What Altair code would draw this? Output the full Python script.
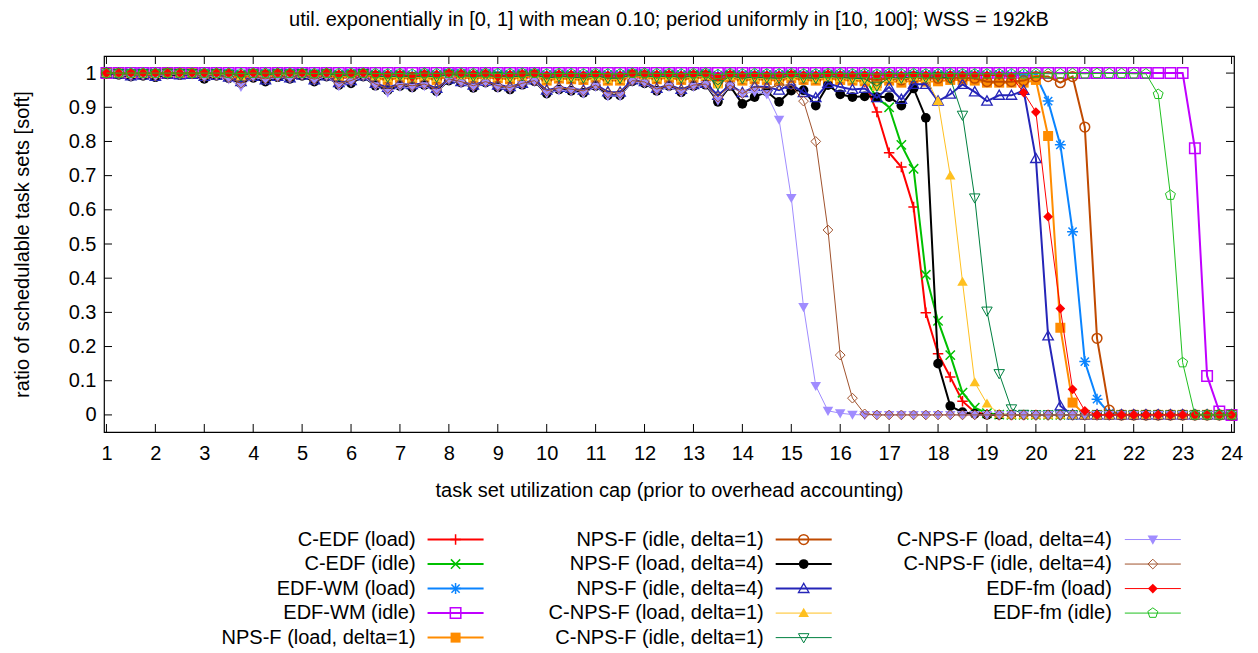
import altair as alt
import pandas as pd

# ---------------- data ----------------
UTIL_CAP = [1.0 + 0.25 * i for i in range(93)]  # 1.00 .. 24.00 step 0.25

C_EDF_LOAD = [
    1.0, 1.0, 1.0, 1.0, 1.0, 1.0, 1.0, 1.0,
    1.0, 1.0, 0.998, 0.996, 1.0, 0.998, 1.0, 1.0,
    1.0, 0.997, 1.0, 0.995, 0.998, 1.0, 0.995, 0.992,
    0.995, 0.985, 0.996, 0.993, 1.0, 0.998, 0.996, 0.998,
    0.985, 0.994, 0.997, 0.999, 0.99, 0.995, 0.993, 0.99,
    0.996, 0.99, 0.99, 0.998, 0.997, 0.992, 0.996, 0.99,
    0.996, 0.997, 0.985, 0.995, 0.99, 0.992, 0.99, 0.99,
    0.995, 0.99, 0.99, 0.995, 0.992, 0.99, 0.975, 0.886,
    0.767, 0.725, 0.608, 0.299, 0.179, 0.111, 0.04, 0.008,
    0.002, 0.0, 0.0, 0.0, 0.0, 0.0, 0.0, 0.0,
    0.0, 0.0, 0.0, 0.0, 0.0, 0.0, 0.0, 0.0,
    0.0, 0.0, 0.0, 0.0, 0.0,
]
C_EDF_IDLE = [
    1.0, 1.0, 1.0, 1.0, 1.0, 1.0, 1.0, 1.0,
    1.0, 0.999, 0.997, 0.995, 1.0, 0.997, 0.999, 0.999,
    1.0, 0.996, 0.999, 0.994, 0.997, 1.0, 0.994, 0.99,
    0.994, 0.982, 0.995, 0.992, 0.999, 0.997, 0.995, 0.997,
    0.995, 0.993, 0.996, 0.998, 0.989, 0.994, 0.992, 0.989,
    0.995, 0.989, 0.989, 0.997, 0.996, 0.99, 0.995, 0.989,
    0.995, 0.996, 0.983, 0.994, 0.989, 0.99, 0.989, 0.989,
    0.994, 0.989, 0.989, 0.994, 0.99, 0.99, 0.985, 0.928,
    0.90, 0.79, 0.72, 0.41, 0.275, 0.175, 0.065, 0.021,
    0.005, 0.001, 0.0, 0.0, 0.0, 0.0, 0.0, 0.0,
    0.0, 0.0, 0.0, 0.0, 0.0, 0.0, 0.0, 0.0,
    0.0, 0.0, 0.0, 0.0, 0.0,
]
EDF_WM_LOAD = [
    1.0, 1.0, 1.0, 1.0, 1.0, 1.0, 1.0, 1.0,
    1.0, 1.0, 0.999, 0.998, 1.0, 0.999, 1.0, 1.0,
    1.0, 0.999, 1.0, 0.998, 0.999, 1.0, 0.998, 0.997,
    0.998, 0.995, 0.999, 0.997, 1.0, 0.999, 0.998, 0.999,
    0.998, 0.997, 0.999, 1.0, 0.996, 0.998, 0.997, 0.996,
    0.998, 0.996, 0.996, 0.999, 0.999, 0.997, 0.998, 0.996,
    0.998, 0.999, 0.994, 0.998, 0.996, 0.997, 0.996, 0.996,
    0.998, 0.996, 0.996, 0.998, 0.997, 0.996, 0.997, 0.995,
    0.997, 0.995, 0.997, 0.996, 0.996, 0.997, 0.996, 0.996,
    0.995, 0.996, 0.995, 0.994, 0.993, 0.918, 0.79, 0.536,
    0.156, 0.046, 0.005, 0.0, 0.0, 0.0, 0.0, 0.0,
    0.0, 0.0, 0.0, 0.0, 0.0,
]
EDF_WM_IDLE = [
    1.0, 1.0, 1.0, 1.0, 1.0, 1.0, 1.0, 1.0,
    1.0, 1.0, 1.0, 1.0, 1.0, 1.0, 1.0, 1.0,
    1.0, 1.0, 1.0, 1.0, 1.0, 1.0, 1.0, 1.0,
    1.0, 1.0, 1.0, 1.0, 1.0, 1.0, 1.0, 1.0,
    1.0, 1.0, 1.0, 1.0, 1.0, 1.0, 1.0, 1.0,
    1.0, 1.0, 1.0, 1.0, 1.0, 1.0, 1.0, 1.0,
    1.0, 1.0, 1.0, 1.0, 1.0, 1.0, 1.0, 1.0,
    1.0, 1.0, 1.0, 1.0, 1.0, 1.0, 1.0, 1.0,
    1.0, 1.0, 1.0, 1.0, 1.0, 1.0, 1.0, 1.0,
    1.0, 1.0, 1.0, 1.0, 1.0, 1.0, 1.0, 1.0,
    1.0, 1.0, 1.0, 1.0, 1.0, 1.0, 1.0, 1.0,
    1.0, 0.78, 0.114, 0.01, 0.0,
]
NPS_F_LOAD_D1 = [
    1.0, 0.998, 0.995, 0.997, 0.996, 0.999, 0.998, 0.999,
    0.995, 0.997, 0.993, 0.985, 0.996, 0.99, 0.995, 0.994,
    0.997, 0.99, 0.996, 0.985, 0.99, 0.997, 0.985, 0.98,
    0.986, 0.983, 0.987, 0.98, 0.992, 0.988, 0.984, 0.988,
    0.985, 0.982, 0.988, 0.99, 0.978, 0.984, 0.982, 0.98,
    0.986, 0.978, 0.978, 0.99, 0.988, 0.982, 0.986, 0.98,
    0.986, 0.988, 0.97, 0.985, 0.978, 0.982, 0.98, 0.978,
    0.985, 0.98, 0.978, 0.984, 0.98, 0.978, 0.976, 0.97,
    0.978, 0.972, 0.98, 0.975, 0.976, 0.98, 0.98, 0.978,
    0.972, 0.972, 0.972, 0.972, 0.98, 0.816, 0.255, 0.036,
    0.0, 0.0, 0.0, 0.0, 0.0, 0.0, 0.0, 0.0,
    0.0, 0.0, 0.0, 0.0, 0.0,
]
NPS_F_IDLE_D1 = [
    1.0, 0.999, 0.997, 0.998, 0.997, 1.0, 0.999, 0.999,
    0.997, 0.998, 0.996, 0.99, 0.998, 0.994, 0.997, 0.996,
    0.998, 0.994, 0.998, 0.99, 0.994, 0.998, 0.99, 0.986,
    0.99, 0.988, 0.991, 0.986, 0.995, 0.992, 0.989, 0.992,
    0.989, 0.987, 0.992, 0.994, 0.984, 0.989, 0.987, 0.985,
    0.99, 0.984, 0.984, 0.994, 0.992, 0.987, 0.99, 0.985,
    0.99, 0.992, 0.978, 0.99, 0.984, 0.987, 0.985, 0.984,
    0.99, 0.985, 0.984, 0.989, 0.986, 0.984, 0.984, 0.98,
    0.985, 0.98, 0.986, 0.984, 0.985, 0.987, 0.986, 0.985,
    0.975, 0.975, 0.975, 0.978, 0.99, 0.99, 0.972, 0.99,
    0.842, 0.224, 0.014, 0.0, 0.0, 0.0, 0.0, 0.0,
    0.0, 0.0, 0.0, 0.0, 0.0,
]
NPS_F_LOAD_D4 = [
    1.0, 0.995, 0.99, 0.992, 0.988, 0.996, 0.994, 0.997,
    0.983, 0.992, 0.985, 0.97, 0.986, 0.975, 0.988, 0.983,
    0.992, 0.975, 0.99, 0.965, 0.97, 0.99, 0.963, 0.95,
    0.962, 0.958, 0.965, 0.947, 0.978, 0.972, 0.957, 0.972,
    0.958, 0.952, 0.966, 0.976, 0.94, 0.952, 0.948, 0.942,
    0.962, 0.935, 0.935, 0.976, 0.97, 0.948, 0.962, 0.944,
    0.962, 0.966, 0.916, 0.962, 0.91, 0.93, 0.946, 0.916,
    0.949, 0.95, 0.905, 0.965, 0.938, 0.93, 0.932, 0.93,
    0.93, 0.905, 0.955, 0.869, 0.15, 0.026, 0.008, 0.003,
    0.0, 0.0, 0.0, 0.0, 0.0, 0.0, 0.0, 0.0,
    0.0, 0.0, 0.0, 0.0, 0.0, 0.0, 0.0, 0.0,
    0.0, 0.0, 0.0, 0.0, 0.0,
]
NPS_F_IDLE_D4 = [
    1.0, 0.997, 0.992, 0.994, 0.99, 0.997, 0.995, 0.996,
    0.99, 0.993, 0.988, 0.975, 0.99, 0.98, 0.99, 0.986,
    0.994, 0.98, 0.992, 0.972, 0.978, 0.992, 0.97, 0.958,
    0.968, 0.966, 0.97, 0.955, 0.982, 0.975, 0.965, 0.976,
    0.965, 0.96, 0.97, 0.98, 0.95, 0.958, 0.955, 0.95,
    0.966, 0.945, 0.944, 0.98, 0.975, 0.955, 0.966, 0.952,
    0.966, 0.97, 0.935, 0.965, 0.943, 0.96, 0.96, 0.95,
    0.967, 0.943, 0.928, 0.97, 0.959, 0.952, 0.955, 0.928,
    0.959, 0.923, 0.967, 0.967, 0.918, 0.938, 0.967, 0.945,
    0.918, 0.935, 0.935, 0.949, 0.75, 0.231, 0.026, 0.0,
    0.0, 0.0, 0.0, 0.0, 0.0, 0.0, 0.0, 0.0,
    0.0, 0.0, 0.0, 0.0, 0.0,
]
C_NPS_F_LOAD_D1 = [
    1.0, 0.999, 0.997, 0.998, 0.997, 1.0, 0.998, 0.999,
    0.996, 0.998, 0.995, 0.99, 0.997, 0.993, 0.997, 0.996,
    0.998, 0.993, 0.997, 0.99, 0.993, 0.998, 0.99, 0.985,
    0.99, 0.986, 0.99, 0.985, 0.995, 0.99, 0.988, 0.99,
    0.988, 0.986, 0.99, 0.994, 0.982, 0.988, 0.986, 0.984,
    0.99, 0.982, 0.982, 0.994, 0.99, 0.986, 0.99, 0.984,
    0.99, 0.992, 0.968, 0.99, 0.982, 0.986, 0.984, 0.982,
    0.99, 0.984, 0.982, 0.988, 0.985, 0.982, 0.98, 0.96,
    0.985, 0.982, 0.99, 0.985, 0.918, 0.70, 0.389, 0.095,
    0.033, 0.003, 0.0, 0.0, 0.0, 0.0, 0.0, 0.0,
    0.0, 0.0, 0.0, 0.0, 0.0, 0.0, 0.0, 0.0,
    0.0, 0.0, 0.0, 0.0, 0.0,
]
C_NPS_F_IDLE_D1 = [
    1.0, 0.999, 0.998, 0.999, 0.998, 1.0, 0.999, 0.999,
    0.997, 0.999, 0.996, 0.992, 0.998, 0.995, 0.998, 0.997,
    0.999, 0.995, 0.998, 0.992, 0.995, 0.999, 0.992, 0.988,
    0.992, 0.988, 0.992, 0.988, 0.996, 0.992, 0.99, 0.992,
    0.99, 0.988, 0.992, 0.995, 0.985, 0.99, 0.988, 0.986,
    0.992, 0.985, 0.985, 0.995, 0.992, 0.988, 0.992, 0.986,
    0.992, 0.993, 0.966, 0.992, 0.985, 0.988, 0.986, 0.985,
    0.992, 0.986, 0.985, 0.99, 0.987, 0.985, 0.983, 0.962,
    0.987, 0.985, 0.99, 0.987, 0.99, 0.985, 0.877, 0.635,
    0.304, 0.121, 0.018, 0.002, 0.0, 0.0, 0.0, 0.0,
    0.0, 0.0, 0.0, 0.0, 0.0, 0.0, 0.0, 0.0,
    0.0, 0.0, 0.0, 0.0, 0.0,
]
C_NPS_F_LOAD_D4 = [
    1.0, 0.996, 0.99, 0.993, 0.99, 0.997, 0.995, 0.996,
    0.986, 0.993, 0.982, 0.96, 0.988, 0.98, 0.988, 0.984,
    0.993, 0.978, 0.991, 0.962, 0.973, 0.991, 0.962, 0.943,
    0.96, 0.957, 0.962, 0.943, 0.98, 0.97, 0.958, 0.97,
    0.957, 0.953, 0.965, 0.975, 0.94, 0.95, 0.947, 0.94,
    0.96, 0.933, 0.933, 0.975, 0.97, 0.947, 0.96, 0.943,
    0.96, 0.965, 0.92, 0.962, 0.94, 0.945, 0.938, 0.864,
    0.635, 0.316, 0.085, 0.012, 0.005, 0.001, 0.0, 0.0,
    0.0, 0.0, 0.0, 0.0, 0.0, 0.0, 0.0, 0.0,
    0.0, 0.0, 0.0, 0.0, 0.0, 0.0, 0.0, 0.0,
    0.0, 0.0, 0.0, 0.0, 0.0, 0.0, 0.0, 0.0,
    0.0, 0.0, 0.0, 0.0, 0.0,
]
C_NPS_F_IDLE_D4 = [
    1.0, 0.997, 0.993, 0.994, 0.992, 0.998, 0.996, 0.997,
    0.99, 0.994, 0.987, 0.97, 0.99, 0.983, 0.99, 0.987,
    0.994, 0.982, 0.993, 0.97, 0.978, 0.993, 0.968, 0.955,
    0.967, 0.963, 0.968, 0.953, 0.983, 0.975, 0.963, 0.975,
    0.963, 0.958, 0.97, 0.978, 0.948, 0.957, 0.953, 0.948,
    0.965, 0.942, 0.942, 0.978, 0.974, 0.953, 0.965, 0.95,
    0.965, 0.968, 0.93, 0.965, 0.94, 0.96, 0.955, 0.965,
    0.965, 0.918, 0.80, 0.541, 0.175, 0.049, 0.003, 0.0,
    0.0, 0.0, 0.0, 0.0, 0.0, 0.0, 0.0, 0.0,
    0.0, 0.0, 0.0, 0.0, 0.0, 0.0, 0.0, 0.0,
    0.0, 0.0, 0.0, 0.0, 0.0, 0.0, 0.0, 0.0,
    0.0, 0.0, 0.0, 0.0, 0.0,
]
EDF_FM_LOAD = [
    1.0, 1.0, 1.0, 1.0, 1.0, 1.0, 1.0, 1.0,
    1.0, 1.0, 0.999, 0.998, 1.0, 0.999, 1.0, 1.0,
    1.0, 0.998, 1.0, 0.997, 0.999, 1.0, 0.997, 0.996,
    0.997, 0.99, 0.998, 0.996, 1.0, 0.999, 0.997, 0.999,
    0.99, 0.996, 0.998, 0.999, 0.994, 0.997, 0.996, 0.994,
    0.997, 0.994, 0.994, 0.999, 0.998, 0.996, 0.997, 0.994,
    0.997, 0.998, 0.99, 0.997, 0.994, 0.995, 0.994, 0.994,
    0.997, 0.994, 0.994, 0.997, 0.995, 0.994, 0.995, 0.993,
    0.995, 0.993, 0.995, 0.994, 0.994, 0.995, 0.994, 0.994,
    0.993, 0.993, 0.99, 0.943, 0.886, 0.58, 0.311, 0.075,
    0.012, 0.0, 0.0, 0.0, 0.0, 0.0, 0.0, 0.0,
    0.0, 0.0, 0.0, 0.0, 0.0,
]
EDF_FM_IDLE = [
    1.0, 1.0, 1.0, 1.0, 1.0, 1.0, 1.0, 1.0,
    1.0, 1.0, 1.0, 0.999, 1.0, 1.0, 1.0, 1.0,
    1.0, 0.999, 1.0, 0.999, 1.0, 1.0, 0.999, 0.998,
    0.999, 0.997, 1.0, 0.999, 1.0, 1.0, 0.999, 1.0,
    0.999, 0.999, 1.0, 1.0, 0.998, 0.999, 0.999, 0.998,
    0.999, 0.998, 0.998, 1.0, 1.0, 0.999, 0.999, 0.998,
    0.999, 1.0, 0.996, 0.999, 0.998, 0.999, 0.998, 0.998,
    0.999, 0.998, 0.998, 0.999, 0.999, 0.998, 0.999, 0.997,
    0.999, 0.998, 0.999, 0.998, 0.998, 0.999, 0.998, 0.998,
    0.998, 0.998, 0.998, 0.998, 0.999, 0.998, 0.998, 0.999,
    0.998, 0.999, 0.999, 0.999, 0.998, 0.998, 0.938, 0.643,
    0.153, 0.0, 0.0, 0.0, 0.0,
]

LABELS = [
    "C-EDF (load)", "C-EDF (idle)", "EDF-WM (load)", "EDF-WM (idle)",
    "NPS-F (load, delta=1)", "NPS-F (idle, delta=1)", "NPS-F (load, delta=4)",
    "NPS-F (idle, delta=4)", "C-NPS-F (load, delta=1)", "C-NPS-F (idle, delta=1)",
    "C-NPS-F (load, delta=4)", "C-NPS-F (idle, delta=4)", "EDF-fm (load)", "EDF-fm (idle)",
]
VALUES = [
    C_EDF_LOAD, C_EDF_IDLE, EDF_WM_LOAD, EDF_WM_IDLE,
    NPS_F_LOAD_D1, NPS_F_IDLE_D1, NPS_F_LOAD_D4, NPS_F_IDLE_D4,
    C_NPS_F_LOAD_D1, C_NPS_F_IDLE_D1, C_NPS_F_LOAD_D4, C_NPS_F_IDLE_D4,
    EDF_FM_LOAD, EDF_FM_IDLE,
]
X_TICKS = list(range(1, 25))
Y_TICKS = [0, 0.1, 0.2, 0.3, 0.4, 0.5, 0.6, 0.7, 0.8, 0.9, 1]

TITLE = "util. exponentially in [0, 1] with mean 0.10; period uniformly in [10, 100]; WSS = 192kB"
X_TITLE = "task set utilization cap (prior to overhead accounting)"
Y_TITLE = "ratio of schedulable task sets [soft]"

# ---------------- styles ----------------
PLUS = "M-1,0L1,0M0,-1L0,1"
CROSS = "M-0.85,-0.85L0.85,0.85M-0.85,0.85L0.85,-0.85"
STAR = "M-1,0L1,0M0,-1L0,1M-0.75,-0.75L0.75,0.75M-0.75,0.75L0.75,-0.75"
SQUARE = "M-1,-1L1,-1L1,1L-1,1Z"
TRI_UP = "M0,-1L1,0.75L-1,0.75Z"
TRI_DOWN = "M0,1L1,-0.75L-1,-0.75Z"
DIAMOND = "M0,-1L1,0L0,1L-1,0Z"
PENTAGON = "M0,-1L0.951,-0.309L0.588,0.809L-0.588,0.809L-0.951,-0.309Z"

# color, shape, filled, line width, marker size, marker stroke width
STYLE = [
    ("#ff0000", PLUS, False, 2.0, 110, 1.5),
    ("#00c000", CROSS, False, 2.0, 120, 1.5),
    ("#0a84ff", STAR, False, 2.0, 120, 1.5),
    ("#c000ff", SQUARE, False, 2.0, 110, 1.5),
    ("#ff8c00", SQUARE, True, 2.0, 100, 1.0),
    ("#c04a00", "circle", False, 2.0, 95, 1.5),
    ("#000000", "circle", True, 2.0, 95, 1.0),
    ("#2525b8", TRI_UP, False, 2.0, 110, 1.3),
    ("#ffc020", TRI_UP, True, 1.0, 110, 1.0),
    ("#008040", TRI_DOWN, False, 1.0, 110, 1.0),
    ("#a08cff", TRI_DOWN, True, 1.0, 110, 1.0),
    ("#a0522d", DIAMOND, False, 1.0, 95, 1.0),
    ("#ff0000", DIAMOND, True, 1.0, 95, 1.0),
    ("#20c020", PENTAGON, False, 1.0, 110, 1.0),
]

FONT = "Liberation Sans"
FS = 20

# ---------------- scales / encodings ----------------
x_scale = alt.Scale(domain=[0.95, 24.05], nice=False, zero=False)
y_scale = alt.Scale(domain=[-0.05, 1.05], nice=False, zero=False)
X = alt.X("x:Q", scale=x_scale,
          axis=alt.Axis(values=X_TICKS, format="d", title=X_TITLE,
                        labelPadding=11, titlePadding=17))
Y = alt.Y("y:Q", scale=y_scale,
          axis=alt.Axis(values=Y_TICKS, format="~g", title=Y_TITLE,
                        labelPadding=8, titlePadding=36))

# pixel -> data helpers for decoration placement (reference geometry)
PX_PER_X = 48.9
PX_PER_Y = 341.5


def px_x(px):
    return 1 + (px - 108.0) / PX_PER_X


def px_y(py):
    return (413.5 - py) / PX_PER_Y


layers = []

# inward ticks (gnuplot style, mirrored)
TX = 8 / PX_PER_Y
TY = 8 / PX_PER_X
xt = pd.DataFrame({"x": X_TICKS + X_TICKS,
                   "y": [-0.05] * 24 + [1.05] * 24,
                   "y2": [-0.05 + TX] * 24 + [1.05 - TX] * 24})
yt = pd.DataFrame({"y": Y_TICKS + Y_TICKS,
                   "x": [0.95] * 11 + [24.05] * 11,
                   "x2": [0.95 + TY] * 11 + [24.05 - TY] * 11})
layers.append(alt.Chart(xt).mark_rule(color="black", strokeWidth=1).encode(x=X, y=Y, y2="y2:Q"))
layers.append(alt.Chart(yt).mark_rule(color="black", strokeWidth=1).encode(y=Y, x=X, x2="x2:Q"))

# data series
for name, vals, (col, shp, filled, lw, size, sw) in zip(LABELS, VALUES, STYLE):
    d = pd.DataFrame({"x": UTIL_CAP, "y": vals})
    layers.append(alt.Chart(d).mark_line(color=col, strokeWidth=lw).encode(x=X, y=Y))
    layers.append(alt.Chart(d).mark_point(shape=shp, size=size, filled=filled, color=col,
                                          strokeWidth=sw, opacity=1).encode(x=X, y=Y))

# custom gnuplot-like key: 3 columns, label right-aligned left of sample
COL_LABEL_END = [417, 765, 1113]
COL_LINE = [(429, 485), (777, 833), (1126, 1182)]
ROW_Y = [538, 562.5, 587, 611.5, 636]
PER_COL = [5, 5, 4]
entries = []
k = 0
for c, n in enumerate(PER_COL):
    for r in range(n):
        entries.append((k, c, r))
        k += 1

txt = pd.DataFrame({
    "x": [px_x(COL_LABEL_END[c]) for _, c, _ in entries],
    "y": [px_y(ROW_Y[r]) for _, _, r in entries],
    "label": [LABELS[i] for i, _, _ in entries],
})
layers.append(alt.Chart(txt).mark_text(align="right", baseline="middle", font=FONT,
                                       fontSize=FS, color="black").encode(x=X, y=Y, text="label:N"))
for i, c, r in entries:
    col, shp, filled, lw, size, sw = STYLE[i]
    x1, x2 = COL_LINE[c]
    ld = pd.DataFrame({"x": [px_x(x1)], "x2": [px_x(x2)], "y": [px_y(ROW_Y[r])]})
    pd_ = pd.DataFrame({"x": [px_x((x1 + x2) / 2)], "y": [px_y(ROW_Y[r])]})
    layers.append(alt.Chart(ld).mark_rule(color=col, strokeWidth=lw).encode(x=X, x2="x2:Q", y=Y))
    layers.append(alt.Chart(pd_).mark_point(shape=shp, size=size, filled=filled, color=col,
                                            strokeWidth=sw, opacity=1).encode(x=X, y=Y))

chart = alt.layer(*layers).properties(
    width=1130,
    height=376,
    background="white",
    padding={"left": 4, "right": 4, "top": 1, "bottom": 0},
    title=alt.TitleParams(TITLE, font=FONT, fontSize=FS, fontWeight="normal",
                          anchor="middle", frame="group", offset=26, color="black"),
).configure_view(
    stroke="black", strokeWidth=1.2
).configure_axis(
    labelFont=FONT, labelFontSize=FS, labelColor="black",
    titleFont=FONT, titleFontSize=FS, titleFontWeight="normal", titleColor="black",
    grid=False, domain=False, ticks=False,
)

chart.save("out.html", embed_options={"renderer": "svg", "actions": False})
